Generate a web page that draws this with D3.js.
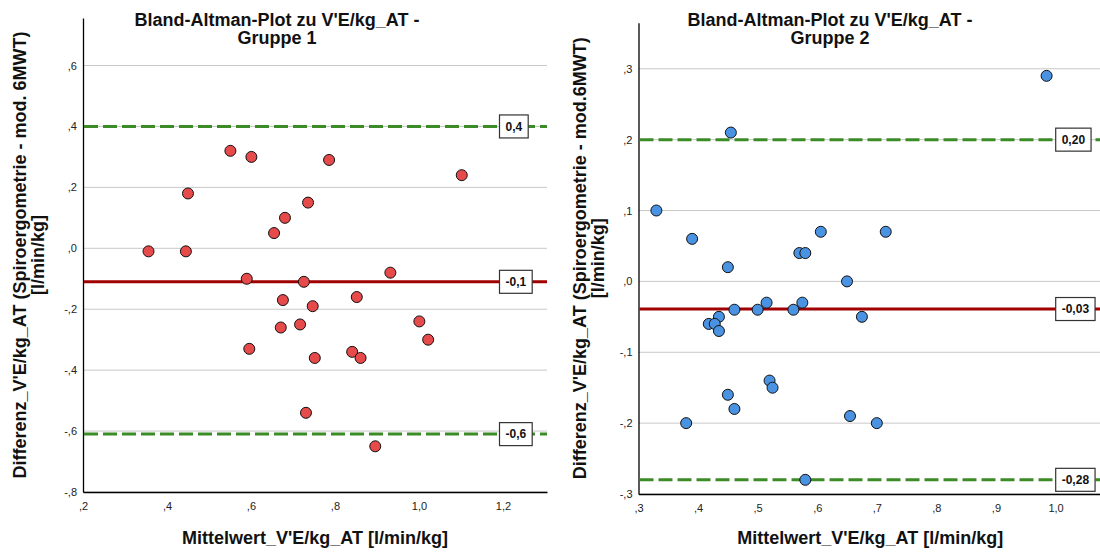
<!DOCTYPE html>
<html>
<head>
<meta charset="utf-8">
<script src="https://cdn.jsdelivr.net/npm/d3@7"></script>
<style>
  body { margin: 0; background: #fff; }
  svg { font-family: "Liberation Sans", Arial, sans-serif; }
</style>
</head>
<body>
<div id="chart"></div>
<script>
// Gruppe 1: Mittelwert (x) und Differenz (y)
const g1Mean = [0.551, 0.601, 0.786, 1.102, 0.450, 0.736, 0.681, 0.655, 0.356, 0.445,
  0.590, 0.726, 0.932, 0.676, 0.747, 0.852, 0.671, 0.717, 1.001, 1.022,
  0.596, 0.752, 0.841, 0.861, 0.731, 0.896];
const g1Diff = [0.32, 0.30, 0.29, 0.24, 0.18, 0.15, 0.10, 0.05, -0.01, -0.01,
  -0.10, -0.11, -0.08, -0.17, -0.19, -0.16, -0.26, -0.25, -0.24, -0.30,
  -0.33, -0.36, -0.34, -0.36, -0.54, -0.65];
// obere Grenze, Mittelwert, untere Grenze
const g1Lines = [0.40, -0.11, -0.61];
const g1LineLabels = ["0,4", "-0,1", "-0,6"];
const g1XTicks = [0.2, 0.4, 0.6, 0.8, 1.0, 1.2];
const g1YTicks = [-0.8, -0.6, -0.4, -0.2, 0.0, 0.2, 0.4, 0.6];

// Gruppe 2
const g2Mean = [0.985, 0.455, 0.330, 0.390, 0.606, 0.715, 0.570, 0.580, 0.450, 0.650,
  0.515, 0.575, 0.461, 0.500, 0.560, 0.675, 0.435, 0.418, 0.428, 0.435,
  0.520, 0.525, 0.450, 0.461, 0.380, 0.655, 0.700, 0.580];
const g2Diff = [0.29, 0.21, 0.10, 0.06, 0.07, 0.07, 0.04, 0.04, 0.02, 0.00,
  -0.03, -0.03, -0.04, -0.04, -0.04, -0.05, -0.05, -0.06, -0.06, -0.07,
  -0.14, -0.15, -0.16, -0.18, -0.20, -0.19, -0.20, -0.28];
const g2Lines = [0.20, -0.039, -0.28];
const g2LineLabels = ["0,20", "-0,03", "-0,28"];
const g2XTicks = [0.3, 0.4, 0.5, 0.6, 0.7, 0.8, 0.9, 1.0];
const g2YTicks = [-0.3, -0.2, -0.1, 0.0, 0.1, 0.2, 0.3];

const WIDTH = 1100;
const HEIGHT = 552;
const RED_LINE = "#a00000";
const GREEN_LINE = "#3b8c26";

// SPSS style: ",6" "-,2" "1,0"
function spssFmt(v) {
  var s = Math.abs(v).toFixed(1).replace(".", ",");
  if (s.startsWith("0")) s = s.slice(1);
  return (v < -1e-9 ? "-" : "") + s;
}

const svg = d3.select("#chart")
  .append("svg")
  .attr("width", WIDTH)
  .attr("height", HEIGHT);

function drawPanel(p) {
  var x = d3.scaleLinear().domain(p.xDomain).range(p.xRange);
  var y = d3.scaleLinear().domain(p.yDomain).range(p.yRange);
  var g = svg.append("g");

  var clipId = "clip" + p.id;
  g.append("clipPath").attr("id", clipId)
    .append("rect")
    .attr("x", p.xRange[0]).attr("y", p.yRange[1])
    .attr("width", p.xRange[1] - p.xRange[0])
    .attr("height", p.yRange[0] - p.yRange[1]);

  // grid lines
  g.selectAll(".grid")
    .data(p.yTicks)
    .enter().append("line")
    .attr("x1", p.xRange[0]).attr("x2", p.xRange[1])
    .attr("y1", d => y(d)).attr("y2", d => y(d))
    .style("stroke", "#c8c8c8")
    .style("stroke-width", 1);

  // axes without tick marks
  var xAxis = d3.axisBottom(x).tickValues(p.xTicks).tickFormat(spssFmt).tickSize(0).tickPadding(10);
  var yAxis = d3.axisLeft(y).tickValues(p.yTicks).tickFormat(spssFmt).tickSize(0).tickPadding(6);

  var gx = g.append("g")
    .attr("transform", `translate(0, ${p.yRange[0]})`)
    .call(xAxis);
  var gy = g.append("g")
    .attr("transform", `translate(${p.xRange[0]}, 0)`)
    .call(yAxis);
  [gx, gy].forEach(a => {
    a.select(".domain").style("stroke", "#000").style("stroke-width", 1.3);
    a.selectAll("text").style("font-size", "11px").style("fill", "#222");
    a.attr("font-family", null);
  });

  // limit lines: upper, mean, lower
  var lineData = p.lines.map((v, i) => ({ v: v, label: p.labels[i], mean: i === 1 }));
  g.selectAll(".limit")
    .data(lineData)
    .enter().append("line")
    .attr("x1", p.xRange[0] + 1).attr("x2", p.xRange[1])
    .attr("y1", d => y(d.v)).attr("y2", d => y(d.v))
    .style("stroke", d => d.mean ? RED_LINE : GREEN_LINE)
    .style("stroke-width", 3)
    .style("stroke-dasharray", d => d.mean ? null : "14,5");

  // points
  var pts = p.mean.map((m, i) => [m, p.diff[i]]);
  g.append("g")
    .attr("clip-path", `url(#${clipId})`)
    .selectAll("circle")
    .data(pts)
    .enter().append("circle")
    .attr("cx", d => x(d[0]))
    .attr("cy", d => y(d[1]))
    .attr("r", 5.5)
    .style("fill", p.color)
    .style("stroke", "#111")
    .style("stroke-width", 1);

  // value boxes
  var boxes = g.selectAll(".box")
    .data(lineData)
    .enter().append("g")
    .attr("transform", d => `translate(${p.boxX}, ${y(d.v)})`);
  boxes.append("text")
    .attr("x", 6)
    .attr("dy", "0.36em")
    .style("font-size", "12px")
    .style("font-weight", "bold")
    .style("fill", "#111")
    .text(d => d.label);
  boxes.each(function () {
    var t = d3.select(this).select("text");
    var w = t.node().getComputedTextLength() + 12;
    d3.select(this).insert("rect", "text")
      .attr("x", 0).attr("y", -11.5)
      .attr("width", w).attr("height", 23)
      .style("fill", "#fff")
      .style("stroke", "#333")
      .style("stroke-width", 1.2);
  });

  // titles
  var title = g.append("text")
    .attr("text-anchor", "middle")
    .style("font-size", "18px")
    .style("font-weight", "bold")
    .style("fill", "#111");
  title.append("tspan").attr("x", p.titleX).attr("y", 25.5).text(p.title[0]);
  title.append("tspan").attr("x", p.titleX).attr("y", 44).text(p.title[1]);

  g.append("text")
    .attr("x", (p.xRange[0] + p.xRange[1]) / 2)
    .attr("y", 543.5)
    .attr("text-anchor", "middle")
    .style("font-size", "18px")
    .style("font-weight", "bold")
    .style("fill", "#111")
    .text("Mittelwert_V'E/kg_AT [l/min/kg]");

  var yc = (p.yRange[0] + p.yRange[1]) / 2;
  var yt = g.append("text")
    .attr("transform", `translate(${p.yTitleX}, ${yc}) rotate(-90)`)
    .attr("text-anchor", "middle")
    .style("font-size", "18px")
    .style("font-weight", "bold")
    .style("fill", "#111");
  yt.append("tspan").attr("x", 0).attr("y", 0).text(p.yTitle);
  yt.append("tspan").attr("x", 0).attr("y", 18).text("[l/min/kg]");
}

drawPanel({
  id: 1,
  mean: g1Mean, diff: g1Diff, lines: g1Lines, labels: g1LineLabels,
  xTicks: g1XTicks, yTicks: g1YTicks,
  xDomain: [0.2, 1.305], xRange: [83, 547],
  yDomain: [-0.8, 0.756], yRange: [492, 18],
  color: "#e64a4a", boxX: 499.5, titleX: 277, yTitleX: 25.5,
  title: ["Bland-Altman-Plot zu V'E/kg_AT -", "Gruppe 1"],
  yTitle: "Differenz_V'E/kg_AT (Spiroergometrie - mod. 6MWT)"
});

drawPanel({
  id: 2,
  mean: g2Mean, diff: g2Diff, lines: g2Lines, labels: g2LineLabels,
  xTicks: g2XTicks, yTicks: g2YTicks,
  xDomain: [0.3, 1.078], xRange: [638.5, 1102],
  yDomain: [-0.3, 0.365], yRange: [494, 22.7],
  color: "#4a93e2", boxX: 1055.7, titleX: 830, yTitleX: 585.5,
  title: ["Bland-Altman-Plot zu V'E/kg_AT -", "Gruppe 2"],
  yTitle: "Differenz_V'E/kg_AT (Spiroergometrie - mod.6MWT)"
});
</script>
</body>
</html>
